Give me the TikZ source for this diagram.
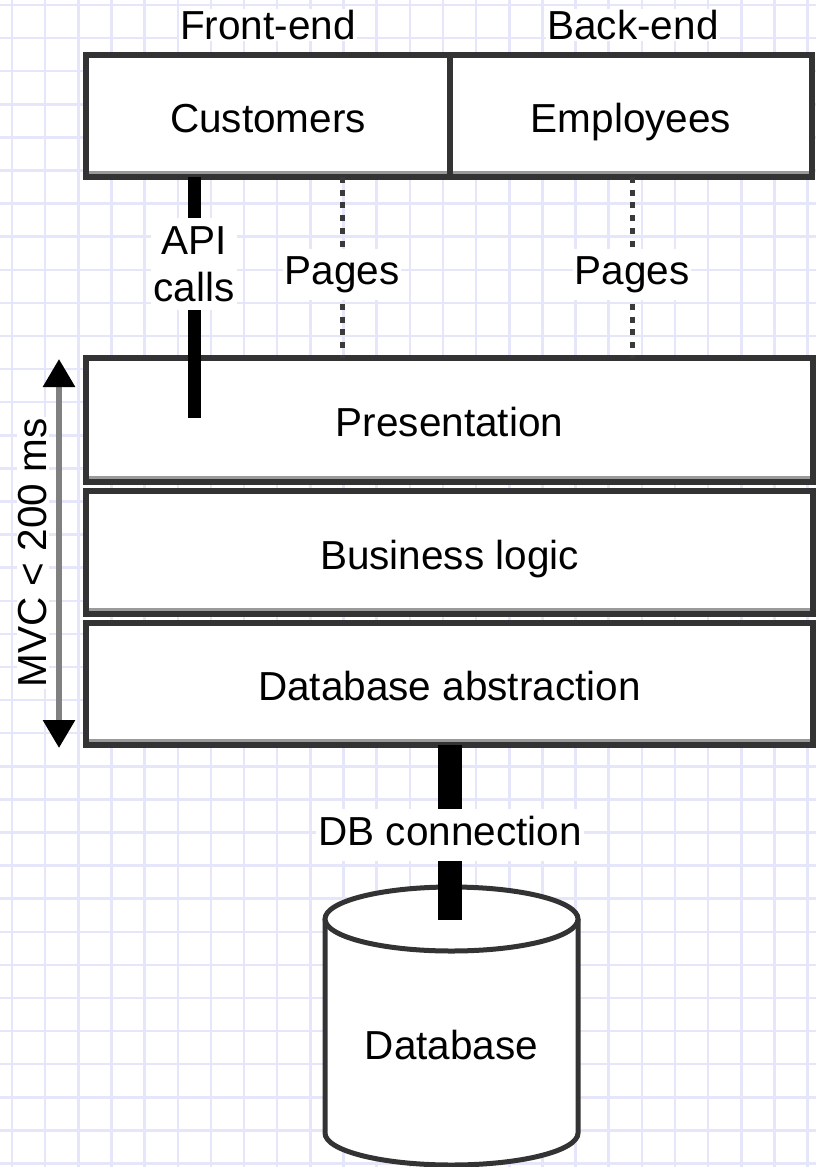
\documentclass[tikz,border=0pt]{standalone}
\usepackage{fontspec}
\setmainfont{Liberation Sans}
\usetikzlibrary{arrows.meta}
\definecolor{gridc}{HTML}{E6E6FA}
\definecolor{edgec}{HTML}{333333}
\definecolor{shadec}{HTML}{9A9A9A}
\definecolor{mvcgray}{HTML}{808080}
\definecolor{dotc}{HTML}{3A3A3A}
\pgfdeclarelayer{gridlayer}
\pgfdeclarelayer{lineslayer}
\pgfdeclarelayer{labelslayer}
\pgfsetlayers{gridlayer,main,lineslayer,labelslayer}
\tikzset{
  every node/.style={font=\fontsize{40.5}{47}\selectfont, text=black},
  box/.style={draw=edgec, line width=6pt, fill=white, rectangle, inner sep=0pt, outer sep=0pt, text height=38pt, text depth=5pt},
  lbl/.style={fill=white, inner xsep=2pt, inner ysep=6pt, text height=30pt, text depth=9.5pt},
  gridline/.style={draw=gridc, line width=2.5pt},
  shadeline/.style={draw=shadec, line width=3pt},
  apiline/.style={draw=black, line width=13pt},
  dbline/.style={draw=black, line width=24pt},
  pageline/.style={draw=dotc, line width=5pt, dash pattern=on 6pt off 6.7pt},
  mvcline/.style={draw=mvcgray, line width=6pt},
  cyl/.style={draw=edgec, line width=5pt}
}
\begin{document}
\begin{tikzpicture}[x=1pt,y=-1pt]
\useasboundingbox (0,0) rectangle (816,1167);
\begin{pgfonlayer}{gridlayer}
  \fill[white] (0,0) rectangle (816,1167);
  \foreach \i in {0,...,24} \draw[gridline] (12+33.15*\i,0) -- (12+33.15*\i,1167);
  \foreach \j in {0,...,35} \draw[gridline] (0,5+33.1*\j) -- (816,5+33.1*\j);
\end{pgfonlayer}

% boxes
\node[box, minimum width=364pt, minimum height=122pt] (cust) at (268,116) {Customers};
\node[box, minimum width=362pt, minimum height=122pt] (emp) at (631,116) {Employees};
\node[box, minimum width=727pt, minimum height=124pt] (pres) at (449.5,420) {Presentation};
\node[box, minimum width=727pt, minimum height=123pt] (biz) at (449.5,552.5) {Business logic};
\node[box, minimum width=727pt, minimum height=122pt] (dba) at (449.5,684) {Database abstraction};
\foreach \n in {cust,emp,pres,biz,dba}
  \draw[shadeline] ([xshift=3pt,yshift=4.5pt]\n.south west) -- ([xshift=-3pt,yshift=4.5pt]\n.south east);

% cylinder
\fill[white] (325,919) -- (325,1133) arc[start angle=180,end angle=360,x radius=126.5pt,y radius=32pt] -- (578,919) -- cycle;
\draw[cyl] (325,919) -- (325,1133) arc[start angle=180,end angle=360,x radius=126.5pt,y radius=32pt] -- (578,919);
\draw[cyl, fill=white] (451.5,919) ellipse [x radius=126.5pt, y radius=32pt];
\node (dbtxt) at (451.5,1045) {Database};

% labels
\begin{pgfonlayer}{labelslayer}
  \node[fill=white, inner sep=1.5pt] (front) at (268,25) {Front-end};
  \node[fill=white, inner sep=1.5pt] (back) at (633,25) {Back-end};
  \node[fill=white, inner xsep=2pt, inner ysep=8pt, align=center] (api) at (194,264) {API\\calls};
  \node[lbl] (pages1) at (342,274.5) {Pages};
  \node[lbl] (pages2) at (632,274.5) {Pages};
  \node[lbl] (dbc) at (450,835) {DB connection};
  \node[fill=white, inner sep=1.5pt, rotate=90] (mvc) at (33,553) {MVC < 200 ms};
\end{pgfonlayer}

\coordinate (apiend) at (194,418);
\coordinate (dbtop) at (449.5,920);
\coordinate (mvct) at (59,359);
\coordinate (mvcb) at (59,748);

\begin{pgfonlayer}{lineslayer}
  \draw[apiline] (cust.south -| api) -- (apiend);
  \draw[pageline] (cust.south -| pages1) -- (pres.north -| pages1);
  \draw[pageline] (emp.south -| pages2) -- (pres.north -| pages2);
  \draw[dbline] (dba.south) -- (dbtop);
  \draw[mvcline, arrows={Triangle[color=black,width=31pt,length=28pt]-Triangle[color=black,width=31pt,length=28pt]}] (mvct) -- (mvcb);
\end{pgfonlayer}
\end{tikzpicture}
\end{document}
